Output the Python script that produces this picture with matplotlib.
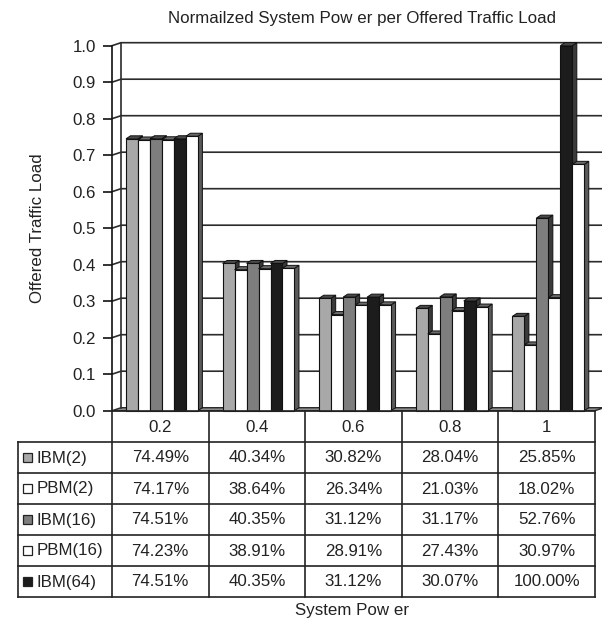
import matplotlib
matplotlib.use('Agg')
import matplotlib.pyplot as plt
import numpy as np
from matplotlib.patches import Polygon, Rectangle

# ---------------- data ----------------
categories = ['0.2', '0.4', '0.6', '0.8', '1']
series_names = ['IBM(2)', 'PBM(2)', 'IBM(16)', 'PBM(16)', 'IBM(64)']
ibm2 = [74.49, 40.34, 30.82, 28.04, 25.85]
pbm2 = [74.17, 38.64, 26.34, 21.03, 18.02]
ibm16 = [74.51, 40.35, 31.12, 31.17, 52.76]
pbm16 = [74.23, 38.91, 28.91, 27.43, 30.97]
ibm64 = [74.51, 40.35, 31.12, 30.07, 100.00]
pbm64 = [75.2, 39.0, 29.0, 28.4, 67.5]   # sixth bar series (not listed in the table)
table_values = [ibm2, pbm2, ibm16, pbm16, ibm64]
bar_values = [ibm2, pbm2, ibm16, pbm16, ibm64, pbm64]
bar_colors = ['#a8a8a8', '#ffffff', '#7e7e7e', '#ffffff', '#1c1c1c', '#ffffff']
yticks = [0.0, 0.1, 0.2, 0.3, 0.4, 0.5, 0.6, 0.7, 0.8, 0.9, 1.0]
title = 'Normailzed System Pow er per Offered Traffic Load'
xlabel = 'System Pow er'
ylabel = 'Offered Traffic Load'

# ---------------- figure ----------------
W, H = 602, 626
plt.rcParams['font.family'] = ['Liberation Sans', 'DejaVu Sans']
FS = 12.2
fig = plt.figure(figsize=(W / 100, H / 100), dpi=100)
fig.patch.set_facecolor('white')

ax_l, ax_r = 112, 595
ax_b, ax_t = 410.7, 45.7
ax = fig.add_axes([ax_l / W, 1 - ax_b / H, (ax_r - ax_l) / W, (ax_b - ax_t) / H])
ax.set_xlim(-0.5, len(categories) - 0.5)
ax.set_ylim(0, 1)
ax.patch.set_alpha(0)

px_x = (len(categories)) / (ax_r - ax_l)   # data units per pixel (x)
px_y = 1.0 / (ax_b - ax_t)                 # data units per pixel (y)
dxw, dyw = 9 * px_x, 3 * px_y              # wall depth
dxb, dyb = 4.5 * px_x, 3 * px_y            # bar depth
xr = len(categories) - 0.5
xl = -0.5
grid_c = '#2b2b2b'

# floor
ax.add_patch(Polygon([(xl, 0), (xr, 0), (xr + dxw, dyw), (xl + dxw, dyw)],
                     closed=True, facecolor='#8c8c8c', edgecolor=grid_c,
                     lw=1.0, clip_on=False, zorder=1))
# back wall gridlines (incl. side wall diagonals)
for t in yticks[1:]:
    ax.plot([xl, xl + dxw, xr + dxw + 0.2], [t, t + dyw, t + dyw],
            color=grid_c, lw=1.2, clip_on=False, zorder=1, solid_capstyle='butt')
ax.plot([xl + dxw, xl + dxw], [dyw, 1 + dyw], color=grid_c, lw=1.2,
        clip_on=False, zorder=1)

# bars
nb = len(bar_values)
bw = 0.124
start = -0.355
for i in range(len(categories)):
    for j in range(nb):
        v = bar_values[j][i] / 100.0
        x0 = i + start + j * bw
        z = 3 + j * 0.1
        side = '#3a3a3a' if bar_colors[j] != '#ffffff' else '#5a5a5a'
        top = '#4a4a4a' if bar_colors[j] != '#ffffff' else '#6a6a6a'
        ax.add_patch(Polygon([(x0 + bw, 0), (x0 + bw + dxb, dyb),
                              (x0 + bw + dxb, v + dyb), (x0 + bw, v)],
                             closed=True, facecolor=side, edgecolor='#111111',
                             lw=0.7, clip_on=False, zorder=z))
        ax.add_patch(Polygon([(x0, v), (x0 + dxb, v + dyb),
                              (x0 + bw + dxb, v + dyb), (x0 + bw, v)],
                             closed=True, facecolor=top, edgecolor='#111111',
                             lw=0.7, clip_on=False, zorder=z))
        ax.add_patch(Rectangle((x0, 0), bw, v, facecolor=bar_colors[j],
                               edgecolor='#111111', lw=0.8, clip_on=False,
                               zorder=z + 0.01))

# axis
for s in ['top', 'right', 'bottom']:
    ax.spines[s].set_visible(False)
ax.spines['left'].set_color('#111111')
ax.spines['left'].set_linewidth(1.2)
ax.set_xticks([])
ax.set_yticks(yticks)
ax.set_yticklabels([f'{t:.1f}' for t in yticks])
ax.tick_params(axis='y', length=6.5, width=1.2, pad=5, labelsize=FS,
               color='#111111', labelcolor='#222222')

# ---------------- data table ----------------
tax = fig.add_axes([0, 0, 1, 1])
tax.set_xlim(0, W)
tax.set_ylim(H, 0)
tax.axis('off')
tax.patch.set_alpha(0)
col_x = np.linspace(ax_l, ax_r, len(categories) + 1)
lab_x = 18
head_top, head_bot = 411, 442
row_h = 31
row_y = head_bot + row_h * np.arange(len(series_names) + 1)
lc = '#222222'
lw = 1.2
tax.plot([ax_l, ax_r], [head_top, head_top], color=lc, lw=lw)
for y in row_y:
    tax.plot([lab_x, ax_r], [y, y], color=lc, lw=lw)
tax.plot([lab_x, lab_x], [row_y[0], row_y[-1]], color=lc, lw=lw)
for x in col_x:
    tax.plot([x, x], [head_top, row_y[-1]], color=lc, lw=lw)

for i, c in enumerate(categories):
    tax.text((col_x[i] + col_x[i + 1]) / 2, (head_top + head_bot) / 2 + 0.5, c,
             ha='center', va='center', fontsize=FS, color='#222222')
for r, name in enumerate(series_names):
    yc = (row_y[r] + row_y[r + 1]) / 2
    tax.add_patch(Rectangle((22.5, yc - 4.5), 9, 9, facecolor=bar_colors[r],
                            edgecolor='#222222', lw=0.9))
    tax.text(37, yc + 0.5, name, ha='left', va='center', fontsize=FS, color='#222222')
    for i in range(len(categories)):
        tax.text((col_x[i] + col_x[i + 1]) / 2, yc + 0.5, f'{table_values[r][i]:.2f}%',
                 ha='center', va='center', fontsize=FS, color='#222222')

# ---------------- labels ----------------
fig.text(362 / W, 1 - 18 / H, title, ha='center', va='center', fontsize=FS, color='#222222')
fig.text(352 / W, 1 - 610 / H, xlabel, ha='center', va='center', fontsize=FS, color='#222222')
fig.text(38 / W, 1 - 228 / H, ylabel, ha='center', va='center', rotation=90,
         fontsize=FS, color='#222222')

fig.savefig('out.png', dpi=100, facecolor='white')
